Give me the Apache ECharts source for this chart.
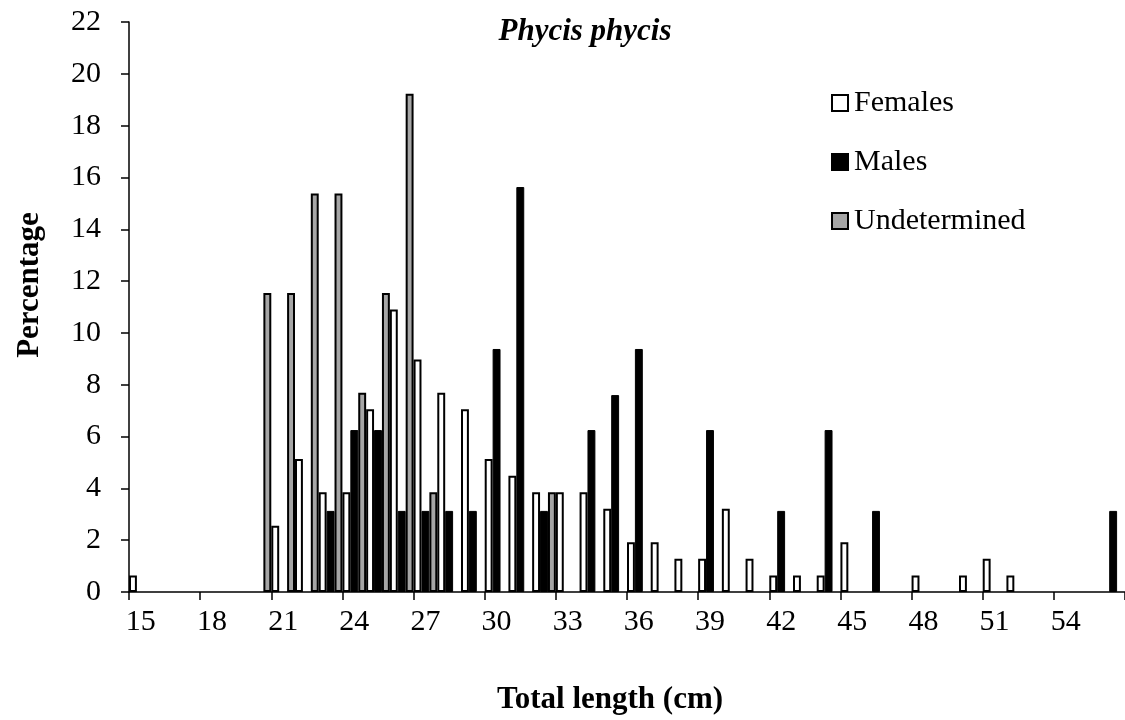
<!DOCTYPE html>
<html>
<head>
<meta charset="utf-8">
<script src="https://cdn.jsdelivr.net/npm/echarts@6/dist/echarts.min.js"></script>
<style>
  html, body { margin: 0; padding: 0; background: #fff; }
  #chart { width: 1125px; height: 720px; }
</style>
</head>
<body>
<div id="chart"></div>
<script>
// total length classes (cm)
const lengths = ["15","16","17","18","19","20","21","22","23","24","25","26","27","28",
  "29","30","31","32","33","34","35","36","37","38","39","40","41","42",
  "43","44","45","46","47","48","49","50","51","52","53","54","55","56"];

// percentages per length class, null = no bar
const females = [0.64, null, null, null, null, null, 2.56, 5.13, 3.85, 3.85, 7.05, 10.9, 8.97, 7.69,
  7.05, 5.13, 4.49, 3.85, 3.85, 3.85, 3.21, 1.92, 1.92, 1.28, 1.28, 3.21, 1.28, 0.64,
  0.64, 0.64, 1.92, null, null, 0.64, null, 0.64, 1.28, 0.64, null, null, null, null];

const males = [null, null, null, null, null, null, null, null, 3.13, 6.25, 6.25, 3.13, 3.13, 3.13,
  3.13, 9.38, 15.63, 3.13, null, 6.25, 7.6, 9.38, null, null, 6.25, null, null, 3.13,
  null, 6.25, null, 3.13, null, null, null, null, null, null, null, null, null, 3.13];

const undetermined = [null, null, null, null, null, 11.54, 11.54, 15.38, 15.38, 7.69, 11.54, 19.23, 3.85, null,
  null, null, null, 3.85, null, null, null, null, null, null, null, null, null, null,
  null, null, null, null, null, null, null, null, null, null, null, null, null, null];

const serif = "Liberation Serif";

const chart = echarts.init(document.getElementById("chart"));

let options = {
  backgroundColor: "#fff",
  animation: false,
  title: {
    text: "Phycis phycis",
    left: 580,
    top: 11,
    textAlign: "center",
    textStyle: {
      fontFamily: serif,
      fontSize: 31,
      fontStyle: "italic",
      fontWeight: "bold",
      color: "#000",
    },
  },
  legend: {
    orient: "vertical",
    left: 826,
    top: 83,
    itemWidth: 16,
    itemHeight: 16,
    itemGap: 29,
    icon: "rect",
    textStyle: {
      fontFamily: serif,
      fontSize: 30,
      color: "#000",
      padding: [0, 0, 0, 1],
    },
    data: ["Females", "Males", "Undetermined"],
  },
  grid: {
    left: 129,
    top: 22,
    width: 1000,
    bottom: 128,
    containLabel: false,
  },
  xAxis: {
    type: "category",
    data: lengths,
    boundaryGap: true,
    name: "Total length (cm)",
    nameLocation: "middle",
    nameGap: 92,
    nameTextStyle: {
      fontFamily: serif,
      fontSize: 31,
      fontWeight: "bold",
      color: "#000",
      padding: [0, 34, 0, 0],
    },
    axisLine: { lineStyle: { color: "#000", width: 1.5 } },
    axisTick: {
      show: true,
      interval: 2,
      length: 8,
      alignWithLabel: false,
      lineStyle: { color: "#000", width: 1.5 },
    },
    axisLabel: {
      interval: 2,
      margin: 15,
      fontFamily: serif,
      fontSize: 30,
      color: "#000",
    },
    splitLine: { show: false },
  },
  yAxis: {
    type: "value",
    min: 0,
    max: 22,
    interval: 2,
    name: "Percentage",
    nameLocation: "middle",
    nameRotate: 90,
    nameGap: 84,
    nameTextStyle: {
      fontFamily: serif,
      fontSize: 31,
      fontWeight: "bold",
      color: "#000",
      padding: [0, 0, 0, 44],
    },
    axisLine: { show: true, lineStyle: { color: "#000", width: 1.5 } },
    axisTick: { show: true, length: 8, lineStyle: { color: "#000", width: 1.5 } },
    axisLabel: {
      margin: 28,
      fontFamily: serif,
      fontSize: 30,
      color: "#000",
    },
    splitLine: { show: false },
  },
  series: [
    {
      name: "Females",
      type: "bar",
      data: females,
      barGap: "0%",
      barCategoryGap: "0%",
      itemStyle: { color: "#fff", borderColor: "#000", borderWidth: 2 },
    },
    {
      name: "Males",
      type: "bar",
      data: males,
      barGap: "0%",
      barCategoryGap: "0%",
      itemStyle: { color: "#000", borderColor: "#000", borderWidth: 1 },
    },
    {
      name: "Undetermined",
      type: "bar",
      data: undetermined,
      barGap: "0%",
      barCategoryGap: "0%",
      itemStyle: { color: "#a6a6a6", borderColor: "#000", borderWidth: 2 },
    },
  ],
};

chart.setOption(options);
</script>
</body>
</html>
